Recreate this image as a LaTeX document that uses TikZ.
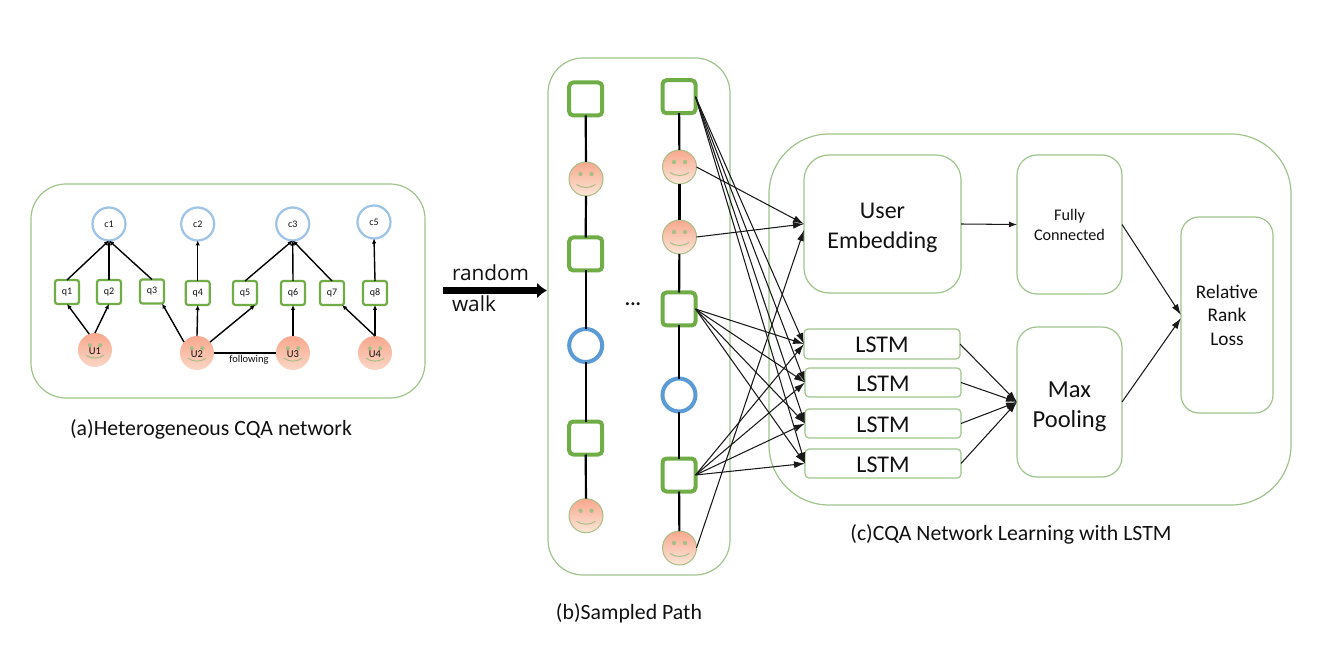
\documentclass[tikz,border=0pt]{standalone}
\usepackage{fontspec}
\setmainfont{Carlito}
\newfontfamily\rwfont{Open Sans}
\usetikzlibrary{arrows.meta}
\definecolor{thin}{HTML}{A0C48C}
\definecolor{qgreen}{HTML}{70AD47}
\definecolor{cblueA}{HTML}{9DC3E6}
\definecolor{cblueB}{HTML}{5B9BD5}
\definecolor{ftop}{HTML}{F8A88E}
\definecolor{fbot}{HTML}{FBE6D8}
\definecolor{fline}{HTML}{A9BE86}
\definecolor{txt}{HTML}{111111}
\newcommand{\fs}[2]{\fontsize{#1pt}{#2pt}\selectfont}
\newcommand{\facebits}[2]{%
  \begin{scope}[shift={(#1.center)},scale=#2]
    \fill[fline] (-5.5,-5) circle (2.2);
    \fill[fline] (5.5,-5) circle (2.2);
    \draw[fline,line width=1pt] (-9.5,5.5) .. controls (-4,9.5) and (4,9.5) .. (9.5,5.5);
  \end{scope}}
\tikzset{
  every node/.style={outer sep=0pt,inner sep=0pt,text=txt},
  box/.style={draw=thin,line width=1.2pt,fill=none,align=center},
  qa/.style={draw=qgreen,line width=2.2pt,rounded corners=2.5pt,minimum size=24pt,font=\fs{10}{12}},
  ca/.style={draw=cblueA,line width=2.2pt,circle,minimum size=33pt,font=\fs{10}{12}},
  ua/.style={draw=none,circle,minimum size=34pt,top color=ftop,bottom color=fbot!75!ftop},
  sb/.style={draw=qgreen,line width=4pt,rounded corners=4pt,minimum size=33pt},
  cb/.style={draw=cblueB,line width=4pt,circle,minimum size=33pt},
  fb/.style={draw=fline,line width=1pt,circle,minimum size=34pt,top color=ftop,bottom color=fbot},
  la/.style={draw=black,line width=1.4pt,-{Latex[length=5pt,width=4.5pt]}},
  pl/.style={draw=black,line width=1.4pt},
  vl/.style={draw=black,line width=2.2pt},
  fw/.style={draw=black!90,line width=1.05pt,-{Latex[length=11pt,width=7pt]}},
  rw/.style={draw=black!90,line width=1.05pt,-{Latex[length=8pt,width=6pt]}},
  captxt/.style={font=\fs{21.8}{26}}
}
\begin{document}
\begin{tikzpicture}[x=1pt,y=-1pt]
\useasboundingbox (0,0) rectangle (1336,668);
\fill[white] (0,0) rectangle (1336,668);
% panel a
\node[box,minimum width=394pt,minimum height=214pt,rounded corners=35pt] (pa) at (228,291) {};
\node[ca] (c1) at (109,224) {c1};
\node[ca] (c2) at (197.7,224) {c2};
\node[ca] (c3) at (292.7,224) {c3};
\node[ca] (c5) at (374,222) {c5};
\node[qa] (q1) at (67,292) {q1};
\node[qa] (q2) at (109,292) {q2};
\node[qa] (q3) at (152,291.5) {q3};
\node[qa] (q4) at (197.7,293) {q4};
\node[qa] (q5) at (245,293) {q5};
\node[qa] (q6) at (293,293) {q6};
\node[qa] (q7) at (332,293) {q7};
\node[qa] (q8) at (375,293) {q8};
\node[ua] (u1) at (95,350) {};
\node[ua] (u2) at (197,353) {};
\node[ua] (u3) at (293,353) {};
\node[ua] (u4) at (375,353) {};
\facebits{u1}{0.95}\facebits{u2}{0.95}\facebits{u3}{0.95}\facebits{u4}{0.95}
\node[font=\fs{10.5}{12}] (tu1) at (95,351) {U1};
\node[font=\fs{10.5}{12}] (tu2) at (197,354) {U2};
\node[font=\fs{10.5}{12}] (tu3) at (293,354) {U3};
\node[font=\fs{10.5}{12}] (tu4) at (375,354) {U4};
\draw[la] (q1.north) -- (c1.south);
\draw[la] (q2.north) -- (c1.south);
\draw[la] (q3.north) -- (c1.south);
\draw[la] (q4.north) -- (c2.south);
\draw[la] (q5.north) -- (c3.south);
\draw[la] (q6.north) -- (c3.south);
\draw[la] (q7.north) -- (c3.south);
\draw[la] (q8.north) -- (c5.south);
\draw[la] (u1.110) -- (q1.south);
\draw[la] (u1.90) -- (q2.south);
\draw[la] (u2.140) -- (q3.-50);
\draw[la] (u2.90) -- (q4.south);
\draw[la] (u2.40) -- (q5.-50);
\draw[la] (u3.north) -- (q6.south);
\draw[la] (u4.north) -- (q7.-50);
\draw[la] (u4.north) -- (q8.south);
\draw[pl] (u2.east) -- (u3.west);
\node[font=\fs{10.5}{12}] (fol) at (249,360) {following};
\node[captxt] (capa) at (211,429.5) {(a)Heterogeneous CQA network};
% random walk
\node[font=\rwfont\fs{20.8}{31},align=left,anchor=west] (rwt) at (452,288.5) {random\\walk};
\coordinate (rwa) at (443,290.5);
\coordinate (rwb) at (547,290.5);
\draw[line width=7pt,-{Latex[length=10pt,width=16pt]}] (rwa) -- (rwb);
% panel b
\node[box,minimum width=182pt,minimum height=517pt,rounded corners=35pt] (pb) at (639,316.5) {};
\node[sb] (s1) at (585.7,99) {};
\node[fb] (f1) at (586,179) {};
\node[sb] (s2) at (585.7,254) {};
\node[cb] (k1) at (585.7,345.5) {};
\node[sb] (s3) at (585.7,438) {};
\node[fb] (f2) at (586,515.7) {};
\node[sb] (r1) at (679,96.7) {};
\node[fb] (g1) at (679.5,167) {};
\node[fb] (g2) at (679.5,237) {};
\node[sb] (r2) at (679,309) {};
\node[cb] (k2) at (679,395) {};
\node[sb] (r3) at (679,475) {};
\node[fb] (g3) at (679.5,548) {};
\facebits{f1}{1}\facebits{f2}{1}\facebits{g1}{1}\facebits{g2}{1}\facebits{g3}{1}
\draw[vl] (s1) -- (f1);
\draw[vl] (f1) -- (s2);
\draw[vl] (s2) -- (k1);
\draw[vl] (k1) -- (s3);
\draw[vl] (s3) -- (f2);
\draw[vl] (r1) -- (g1);
\draw[vl] (g1) -- (g2);
\draw[vl] (g2) -- (r2);
\draw[vl] (r2) -- (k2);
\draw[vl] (k2) -- (r3);
\draw[vl] (r3) -- (g3);
\node[font=\bfseries\fs{20}{24}] (dots) at (633,304) {...};
\node[captxt] (capb) at (629,613.5) {(b)Sampled Path};
% panel c
\node[box,minimum width=522pt,minimum height=371pt,rounded corners=60pt] (pc) at (1030,319.5) {};
\node[box,minimum width=157pt,minimum height=138pt,rounded corners=25pt,font=\fs{24}{30}] (ue) at (882.5,224) {\rule{0pt}{24pt}User\\Embedding};
\node[box,minimum width=105pt,minimum height=139pt,rounded corners=20pt,font=\fs{16.2}{20}] (fc) at (1069.5,224.5) {\rule{0pt}{13pt}Fully\\Connected};
\node[box,minimum width=92pt,minimum height=196pt,rounded corners=18pt,font=\fs{19.3}{23.5}] (rl) at (1227,315) {Relative\\Rank\\Loss};
\node[box,minimum width=105pt,minimum height=150pt,rounded corners=20pt,font=\fs{24.5}{30}] (mp) at (1069.5,402) {\rule{0pt}{26pt}Max\\Pooling};
\tikzset{lbox/.style={box,minimum width=156pt,minimum height=29pt,rounded corners=4pt,font=\fs{24}{27},text height=17pt,text depth=0pt}}
\node[lbox,minimum height=30pt] (l1) at (882,344) {LSTM};
\node[lbox] (l2) at (883,382.5) {LSTM};
\node[lbox] (l3) at (883,423.5) {LSTM};
\node[lbox] (l4) at (883,463.5) {LSTM};
\node[captxt] (capc) at (1011,534) {(c)CQA Network Learning with LSTM};
% connectors
\foreach \s in {r1,r2,r3}{
  \foreach \t in {l1,l2,l3,l4}{
    \draw[fw] (\s.east) -- (\t.west);
  }
}
\draw[fw] (g1.east) -- (ue.west);
\draw[fw] (g2.east) -- (ue.west);
\draw[fw] (g3.east) -- ([yshift=-6pt]ue.west);
\draw[rw] (ue.east) -- (fc.west);
\draw[fw] (fc.east) -- ([yshift=0pt]rl.west);
\draw[fw] (mp.east) -- ([yshift=-3pt]rl.west);
\draw[fw] (l1.east) -- (mp.west);
\draw[fw] (l2.east) -- (mp.west);
\draw[fw] (l3.east) -- (mp.west);
\draw[fw] (l4.east) -- (mp.west);
\end{tikzpicture}
\end{document}
